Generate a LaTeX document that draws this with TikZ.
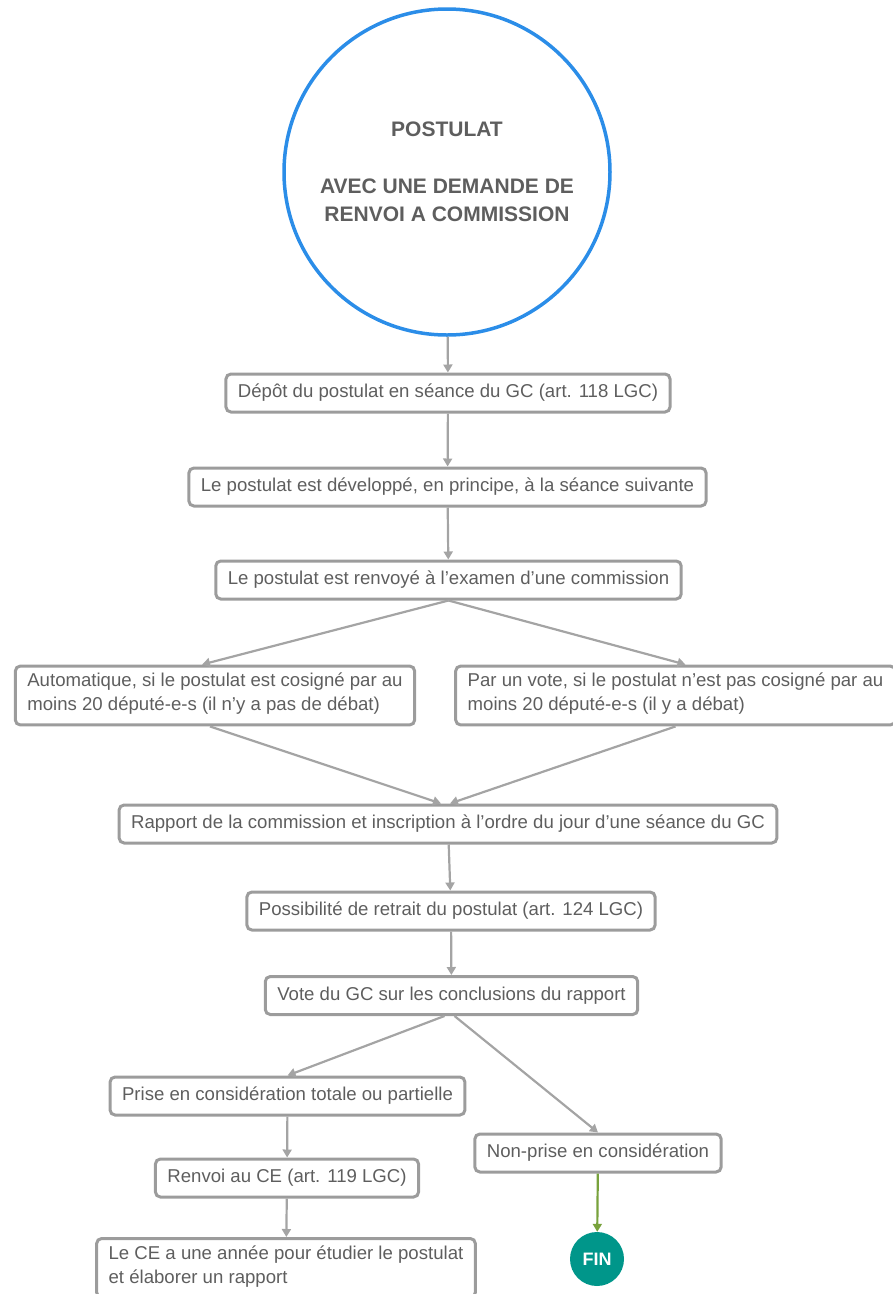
\documentclass[tikz,border=0pt]{standalone}
\usepackage{fontspec}
\setmainfont{Liberation Sans}
\usepackage{tikz}
\usetikzlibrary{positioning, arrows.meta, shapes.geometric}
\definecolor{bleu}{HTML}{2B8DE8}
\definecolor{gristexte}{HTML}{5E5E5E}
\definecolor{grisbord}{HTML}{9C9C9C}
\definecolor{grisfleche}{HTML}{A4A4A4}
\definecolor{sarcelle}{HTML}{00968A}
\definecolor{olive}{HTML}{78A23C}
\tikzset{% 
	>={Triangle[length = 8pt, width = 9pt]},
	every edge/.append style={line width = 2.2pt, draw = grisfleche},
	etape/.style = {name = #1, rectangle, rounded corners = 5pt, draw = grisbord, line width = 3pt, text = gristexte, align = left, inner xsep = 12pt, inner ysep = 7pt, font = \fontsize{18.6}{24}\selectfont, execute at begin node = \strut},
	debut/.style = {name = #1, circle, draw = bleu, line width = 3.5pt, minimum size = 326pt, align = center, text = gristexte, font = \bfseries\fontsize{21}{28.5}\selectfont},
	fin/.style = {name = #1, circle, fill = sarcelle, minimum size = 54pt, inner sep = 0pt, text = white, font = \bfseries\fontsize{18}{20}\selectfont}
}
\begin{document}
\begin{tikzpicture}[x = 1pt, y = -1pt]
			\useasboundingbox (0,0) rectangle (893,1294);
			\node [debut = {postulat}] at (447,172) {POSTULAT\\[28.5pt]AVEC UNE DEMANDE DE\\RENVOI A COMMISSION};
			\node [etape = {depot}] at (448,393) {Dépôt du postulat en séance du GC (art. 118 LGC)};
			\node [etape = {developpe}] at (447.5,487) {Le postulat est développé, en principe, à la séance suivante};
			\node [etape = {renvoi}] at (448.5,580) {Le postulat est renvoyé à l'examen d'une commission};
			\node [etape = {auto}] at (215,695.5) {Automatique, si le postulat est cosigné par au\\moins 20 député-e-s (il n'y a pas de débat)\strut};
			\node [etape = {vote}] at (675.5,695.5) {Par un vote, si le postulat n'est pas cosigné par au\\moins 20 député-e-s (il y a débat)\strut};
			\node [etape = {rapport}] at (448,824) {Rapport de la commission et inscription à l'ordre du jour d'une séance du GC};
			\node [etape = {retrait}] at (451,911) {Possibilité de retrait du postulat (art. 124 LGC)};
			\node [etape = {conclusions}] at (451.5,995.5) {Vote du GC sur les conclusions du rapport};
			\node [etape = {prise}] at (287.5,1096) {Prise en considération totale ou partielle};
			\node [etape = {nonprise}] at (598,1153) {Non-prise en considération};
			\node [etape = {ce}] at (287,1178) {Renvoi au CE (art. 119 LGC)};
			\node [etape = {annee}, anchor = north] at (286,1237) {Le CE a une année pour étudier le postulat\\et élaborer un rapport\strut};
			\node [fin = {fin}] at (597,1259) {FIN};
			\path [->] (postulat) edge (depot);
			\path [->] (depot) edge (developpe);
			\path [->] (developpe) edge (renvoi);
			\path [->] (renvoi.south) edge ([xshift = -13pt]auto.north);
			\path [->] (renvoi.south) edge ([xshift = 10pt]vote.north);
			\path [->] ([xshift = -5pt]auto.south) edge ([xshift = -7pt]rapport.north);
			\path [->] (vote.south) edge ([xshift = 2pt]rapport.north);
			\path [->] (rapport) edge (retrait);
			\path [->] (retrait) edge (conclusions);
			\path [->] ([xshift = -7pt]conclusions.south) edge (prise.north);
			\path [->] ([xshift = 3pt]conclusions.south) edge (nonprise.north);
			\path [->] (prise) edge (ce);
			\path [->] (ce) edge (annee);
			\path [->] (nonprise) edge [draw = olive] (fin);
			\end{tikzpicture}
\end{document}
